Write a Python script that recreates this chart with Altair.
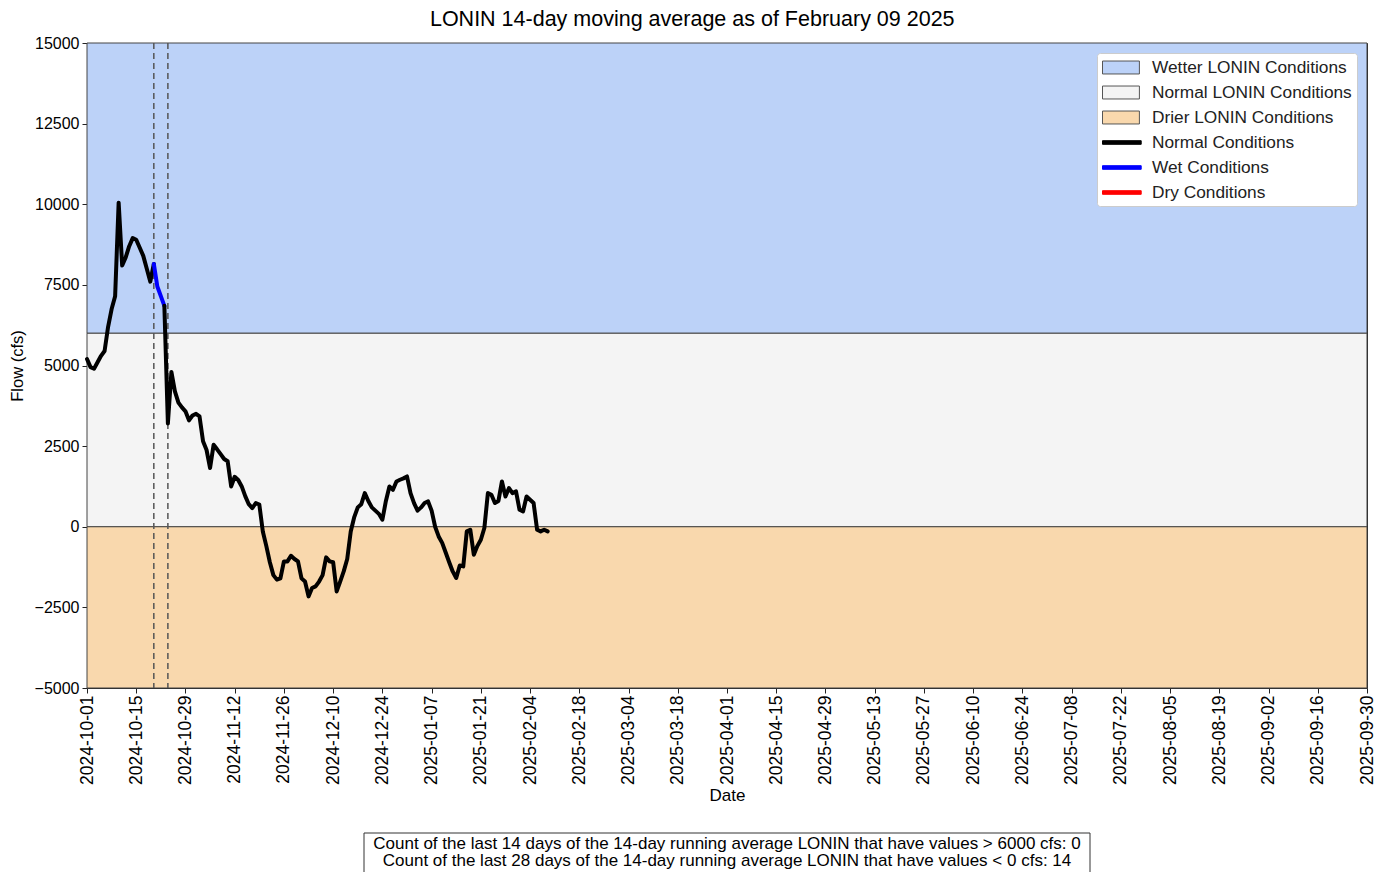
import altair as alt
import pandas as pd

# ---------------- data ----------------
start_date = "2024-10-01"
end_date = "2025-09-30"
flow = [5200, 4950, 4900, 5100, 5300, 5450, 6200, 6750, 7150, 10050,
        8100, 8350, 8700, 8950, 8900, 8650, 8400, 8000, 7600, 8150,
        7450, 7150, 6850, 3200, 4800, 4200, 3850, 3700, 3580, 3300,
        3450, 3500, 3420, 2650, 2380, 1820, 2540, 2400, 2250, 2100,
        2030, 1250, 1550, 1450, 1250, 950, 700, 580, 735, 690,
        -145, -600, -1100, -1500, -1640, -1600, -1075, -1075, -900, -1000,
        -1075, -1600, -1700, -2160, -1900, -1850, -1700, -1500, -950, -1075,
        -1100, -2005, -1700, -1385, -1000, -150, 300, 600, 700, 1044,
        800, 600, 500, 400, 217, 800, 1250, 1147, 1405, 1457,
        1500, 1560, 1044, 735, 500, 600, 735, 785, 500, 0,
        -300, -500, -800, -1100, -1385, -1590, -1200, -1230, -145, -93,
        -868, -600, -403, -40, 1044, 992, 735, 800, 1405, 940,
        1200, 1044, 1095, 527, 475, 940, 837, 735, -93, -145,
        -93, -145]
wet_start, wet_end = 19, 22          # indices of the wet-condition segment
dashed_dates = ["2024-10-20", "2024-10-24"]

band_names = ["Wetter LONIN Conditions", "Normal LONIN Conditions", "Drier LONIN Conditions"]
band_lo = [6000, 0, -5000]
band_hi = [15000, 6000, 0]
band_fill = ["#bcd2f8", "#f4f4f4", "#f9d8ad"]
line_names = ["Normal Conditions", "Wet Conditions", "Dry Conditions"]
line_colors = ["black", "blue", "red"]

y_ticks = [-5000, -2500, 0, 2500, 5000, 7500, 10000, 12500, 15000]
footer = ["Count of the last 14 days of the 14-day running average LONIN that have values > 6000 cfs: 0",
          "Count of the last 28 days of the 14-day running average LONIN that have values < 0 cfs: 14"]
title_text = "LONIN 14-day moving average as of February 09 2025"

# ---------------- tables ----------------
dates = pd.date_range(start_date, periods=len(flow), freq="D")
rows = []
segs = [("a", line_names[0], 0, wet_start), ("b", line_names[1], wet_start, wet_end),
        ("c", line_names[0], wet_end, len(flow) - 1)]
for seg, cat, i0, i1 in segs:
    for i in range(i0, i1 + 1):
        rows.append({"date": dates[i].strftime("%Y-%m-%d"), "flow": flow[i], "cat": cat, "seg": seg})
line_df = pd.DataFrame(rows)

band_df = pd.DataFrame({"cat": band_names, "lo": band_lo, "hi": band_hi})
rule_df = pd.DataFrame({"date": dashed_dates})
legend_df = pd.DataFrame({"cat": band_names + line_names})
footer_df = pd.DataFrame({"txt": footer, "row": [0, 1]})

tick_dates = pd.date_range(start_date, end_date, freq="14D")
tick_ms = [int(d.tz_localize("UTC").timestamp() * 1000) for d in tick_dates]
dom_ms = [int(pd.Timestamp(start_date, tz="UTC").timestamp() * 1000),
          int(pd.Timestamp(end_date, tz="UTC").timestamp() * 1000)]

all_names = band_names + line_names
rect_path = "M-1,-0.72H3.1V0.72H-1Z"
line_path = "M-1,-0.2H3.3V0.2H-1Z"
fill_scale = alt.Scale(domain=all_names, range=band_fill + line_colors)
stroke_scale = alt.Scale(domain=all_names, range=["#555555"] * 3 + line_colors)
shape_scale = alt.Scale(domain=all_names, range=[rect_path] * 3 + [line_path] * 3)

W, H = 1280, 645
FONT = "Liberation Sans"

x_enc = alt.X("date:T", scale=alt.Scale(type="utc", domain=dom_ms),
              axis=alt.Axis(values=tick_ms, labelExpr="utcFormat(datum.value, '%Y-%m-%d')",
                            labelAngle=-90, title="Date", titlePadding=3, labelPadding=2,
                            labelFontSize=17.5, titleFontSize=17,
                            grid=False, domain=False, tickSize=5))
y_scale = alt.Scale(domain=[-5000, 15000], nice=False, zero=False)

bands = alt.Chart(band_df).mark_rect(stroke="#444444", strokeWidth=1).encode(
    x=alt.value(0), x2=alt.value(W),
    y=alt.Y("lo:Q", scale=y_scale,
            axis=alt.Axis(values=y_ticks, format="d", title="Flow (cfs)", grid=False, domain=False,
                          tickSize=5, labelPadding=3, labelFontSize=16, titleFontSize=16.5,
                          titleX=-62, titleY=H / 2)),
    y2="hi:Q",
    fill=alt.Fill("cat:N", scale=fill_scale),
)

rules = alt.Chart(rule_df).mark_rule(color="#555555", strokeDash=[6, 4], strokeWidth=1.5).encode(
    x=x_enc)

line = alt.Chart(line_df).mark_line(strokeWidth=4, strokeJoin="round", strokeCap="round").encode(
    x=x_enc,
    y=alt.Y("flow:Q", scale=y_scale),
    stroke=alt.Stroke("cat:N", scale=stroke_scale),
    detail="seg:N",
    order="date:T",
)

legend_pts = alt.Chart(legend_df).mark_point(filled=True).transform_filter("false").encode(
    fill=alt.Fill("cat:N", scale=fill_scale, legend=alt.Legend(title=None)),
    stroke=alt.Stroke("cat:N", scale=stroke_scale, legend=alt.Legend(title=None)),
    shape=alt.Shape("cat:N", scale=shape_scale, legend=alt.Legend(title=None)),
)

footer_box = alt.Chart(footer_df).transform_filter("datum.row == 0").mark_rect(
    fill="white", stroke="#333333", strokeWidth=1).encode(
    x=alt.value(277), x2=alt.value(1003), y=alt.value(790), y2=alt.value(860))

footer_text = alt.Chart(footer_df).transform_calculate(py="801 + 17 * datum.row").mark_text(
    font=FONT, fontSize=17, color="black", baseline="middle").encode(
    x=alt.value(640),
    y=alt.Y("py:Q", scale=None),
    text="txt:N",
)

chart = alt.layer(bands, rules, line, legend_pts, footer_box, footer_text).properties(
    width=W, height=H,
    title=alt.TitleParams(title_text, font=FONT, fontSize=21.5, fontWeight="normal", color="black",
                          anchor="middle", frame="bounds", offset=5),
    autosize=alt.AutoSizeParams(type="none"),
    padding={"left": 79, "top": 35, "right": 8, "bottom": 184},
).resolve_scale(fill="shared", stroke="shared").configure_view(
    stroke="#222222", strokeWidth=1
).configure_axis(
    labelFont=FONT, titleFont=FONT,
    labelColor="black", titleColor="black", tickColor="#222222", titleFontWeight="normal",
).configure_legend(
    orient="top-right", offset=10, fillColor="white", strokeColor="#cccccc", cornerRadius=3,
    padding=5, labelFont=FONT, labelFontSize=17.3, labelColor="#222222", symbolSize=324,
    symbolStrokeWidth=1, labelOffset=31, rowPadding=7, symbolOpacity=1, labelLimit=400
)

chart.save("out.html", embed_options={"renderer": "svg", "actions": False})
